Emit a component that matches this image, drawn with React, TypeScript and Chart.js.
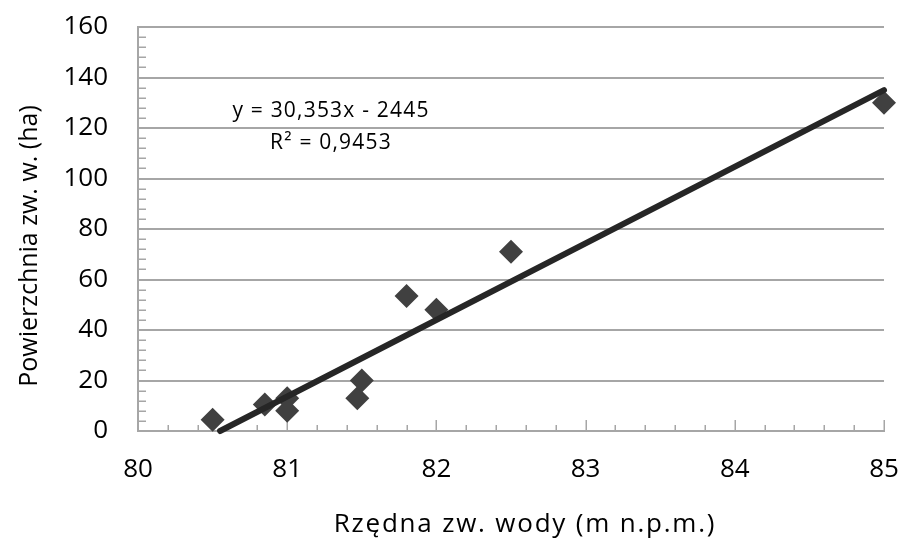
import React, { useEffect, useRef } from "react";
import { Chart, registerables } from "chart.js";

Chart.register(...registerables);

// ---- data ----
const xValues = [80.5, 80.85, 81, 81, 81.47, 81.5, 81.8, 82, 82.5, 85];
const yValues = [4.5, 10.5, 13, 8, 13, 20, 53.5, 48, 71, 130];
const trendX = [80.55, 85];
const trendY = [0, 135];
const equationText = "y = 30,353x - 2445";
const r2Text = "R\u00B2 = 0,9453";
const xTitle = "Rzędna zw. wody (m n.p.m.)";
const yTitle = "Powierzchnia zw. w. (ha)";
const xMin = 80, xMax = 85, xStep = 1, xMinorStep = 0.2;
const yMin = 0, yMax = 160, yStep = 20, yMinorStep = 4;

const FONT = "'Open Sans', sans-serif";
const GRID = "#a6a6a6";

const decorPlugin = {
  id: "decor",
  beforeDatasetsDraw(chart: any) {
    const ctx = chart.ctx;
    const xs = chart.scales.x;
    const ys = chart.scales.y;
    const area = chart.chartArea;
    ctx.save();
    ctx.strokeStyle = GRID;
    ctx.lineWidth = 1.5;
    ctx.beginPath();
    const nx = Math.round((xMax - xMin) / xMinorStep);
    for (let i = 0; i <= nx; i++) {
      const v = xMin + i * xMinorStep;
      const px = Math.round(xs.getPixelForValue(v)) + 0.25;
      const major = i % Math.round(xStep / xMinorStep) === 0;
      const len = major ? 11 : 6;
      ctx.moveTo(px, area.bottom);
      ctx.lineTo(px, area.bottom - len);
    }
    const ny = Math.round((yMax - yMin) / yMinorStep);
    for (let i = 0; i <= ny; i++) {
      const v = yMin + i * yMinorStep;
      const py = Math.round(ys.getPixelForValue(v)) + 0.25;
      ctx.moveTo(area.left, py);
      ctx.lineTo(area.left + 8, py);
    }
    ctx.stroke();
    ctx.restore();
  },
  afterDraw(chart: any) {
    const ctx = chart.ctx;
    ctx.save();
    ctx.fillStyle = "#000";
    // x title
    ctx.font = `26px ${FONT}`;
    (ctx as any).letterSpacing = "1.8px";
    ctx.textAlign = "center";
    ctx.textBaseline = "alphabetic";
    ctx.fillText(xTitle, 525, 532);
    // y title
    (ctx as any).letterSpacing = "0px";
    ctx.font = `25px ${FONT}`;
    ctx.save();
    ctx.translate(37, 246);
    ctx.rotate(-Math.PI / 2);
    ctx.fillText(yTitle, 0, 0);
    ctx.restore();
    // trendline annotation
    ctx.font = `21px ${FONT}`;
    (ctx as any).letterSpacing = "1.2px";
    ctx.fillText(equationText, 331, 117);
    ctx.fillText(r2Text, 331, 149);
    ctx.restore();
  },
};

function zeroPad(scale: any) {
  scale.paddingTop = 0;
  scale.paddingBottom = 0;
  scale.paddingLeft = 0;
  scale.paddingRight = 0;
}

export default function App() {
  const ref = useRef<HTMLCanvasElement | null>(null);
  useEffect(() => {
    if (!ref.current) return;
    const scatterData = xValues.map((x, i) => ({ x, y: yValues[i] }));
    const trendData = trendX.map((x, i) => ({ x, y: trendY[i] }));
    const chart = new Chart(ref.current, {
      type: "scatter",
      data: {
        datasets: [
          {
            data: trendData,
            showLine: true,
            borderColor: "#262626",
            borderWidth: 6,
            borderCapStyle: "round",
            pointRadius: 0,
            clip: false,
            order: 0,
          } as any,
          {
            data: scatterData,
            pointStyle: "rectRot",
            pointRadius: 12,
            backgroundColor: "#404040",
            borderColor: "#404040",
            borderWidth: 0,
            clip: false,
            order: 1,
          } as any,
        ],
      },
      options: {
        animation: false,
        responsive: false,
        devicePixelRatio: 1,
        layout: { padding: { top: 27, right: 16, left: 0, bottom: 0 } },
        plugins: {
          legend: { display: false },
          tooltip: { enabled: false },
        },
        scales: {
          x: {
            type: "linear",
            min: xMin,
            max: xMax,
            afterFit(scale: any) {
              scale.height = 107;
              zeroPad(scale);
            },
            ticks: {
              stepSize: xStep,
              color: "#000",
              font: { family: FONT, size: 26 },
              padding: 23,
              maxRotation: 0,
            },
            grid: { display: false, drawTicks: false },
            border: { display: true, color: GRID, width: 2 },
          },
          y: {
            type: "linear",
            min: yMin,
            max: yMax,
            afterFit(scale: any) {
              scale.width = 138;
              zeroPad(scale);
            },
            ticks: {
              stepSize: yStep,
              color: "#000",
              font: { family: FONT, size: 26 },
              padding: 30,
            },
            grid: { color: GRID, lineWidth: 2, drawTicks: false },
            border: { display: true, color: GRID, width: 2 },
          },
        },
      } as any,
      plugins: [decorPlugin],
    });
    return () => chart.destroy();
  }, []);
  return (
    <div style={{ position: "fixed", left: 0, top: 0, width: 900, height: 538, background: "#fff" }}>
      <canvas ref={ref} width={900} height={538} style={{ display: "block" }} />
    </div>
  );
}
